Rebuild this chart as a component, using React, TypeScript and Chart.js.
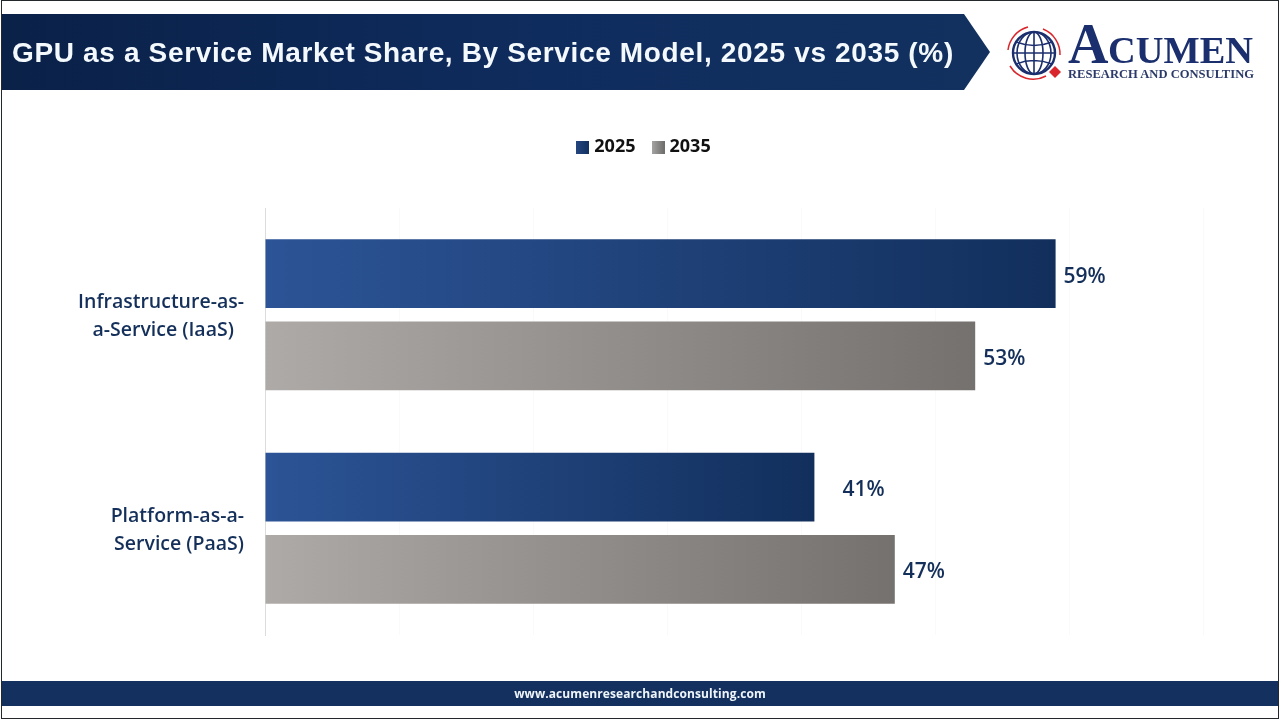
import React, { useEffect, useRef } from "react";
import { Chart, registerables } from "chart.js";

Chart.register(...registerables);

const TITLE = "GPU as a Service Market Share, By Service Model, 2025 vs 2035 (%)";
const FOOTER = "www.acumenresearchandconsulting.com";
const categories = [
  ["Infrastructure-as-", "a-Service (IaaS)  "],
  ["Platform-as-a-", "Service (PaaS)"],
];
const seriesNames = ["2025", "2035"];
const values2025 = [59, 41];
const values2035 = [53, 47];
const axisMax = 70;
const axisStep = 10;

const LABEL_FONT = '"Open Sans", "Noto Sans", sans-serif';

function barGradient(from: string, to: string) {
  return (ctx: any) => {
    const chart = ctx.chart;
    const scale = chart.scales?.x;
    if (!scale || ctx.parsed === undefined || ctx.raw === undefined) return to;
    const x0 = scale.getPixelForValue(0);
    const x1 = scale.getPixelForValue(ctx.raw);
    if (!isFinite(x0) || !isFinite(x1) || x0 === x1) return to;
    const g = chart.ctx.createLinearGradient(x0, 0, x1, 0);
    g.addColorStop(0, from);
    g.addColorStop(1, to);
    return g;
  };
}

function swatch(from: string, to: string) {
  const c = document.createElement("canvas");
  c.width = 13;
  c.height = 13;
  const x = c.getContext("2d")!;
  const g = x.createLinearGradient(0, 0, 13, 0);
  g.addColorStop(0, from);
  g.addColorStop(1, to);
  x.fillStyle = g;
  x.fillRect(0, 0, 13, 13);
  return c;
}

const valueLabels = {
  id: "valueLabels",
  afterDatasetsDraw(chart: any) {
    const { ctx } = chart;
    ctx.save();
    ctx.font = `600 21px ${LABEL_FONT}`;
    ctx.fillStyle = "#14305a";
    ctx.textAlign = "left";
    ctx.textBaseline = "middle";
    chart.data.datasets.forEach((ds: any, i: number) => {
      chart.getDatasetMeta(i).data.forEach((bar: any, j: number) => {
        // the 41% label stands further from its bar in the reference
        const gap = ds.data[j] === 41 ? 28 : 8;
        ctx.fillText(`${ds.data[j]}%`, bar.x + gap, bar.y + 3);
      });
    });
    ctx.restore();
  },
};

// The legend keeps a wide band below it and sits right of the chart's centre.
const legendPlacement = {
  id: "legendPlacement",
  beforeInit(chart: any) {
    const fit = chart.legend.fit;
    chart.legend.fit = function () {
      fit.call(this);
      this.height += 42;
    };
  },
  afterLayout(chart: any) {
    chart.legend.left += 44;
    chart.legend.right += 44;
  },
};

function Logo() {
  const navy = "#1b2f6e";
  const red = "#d8262c";
  const serif = '"Liberation Serif", serif';
  return (
    <svg
      width={260}
      height={90}
      viewBox="0 0 260 90"
      style={{ position: "absolute", left: 1000, top: 0 }}
    >
      <g fill="none" stroke={navy} strokeWidth={1.6}>
        <circle cx={34} cy={53} r={21} strokeWidth={2.4} />
        <ellipse cx={34} cy={53} rx={9} ry={21} />
        <ellipse cx={34} cy={53} rx={17} ry={21} />
        <path d="M34 32V74M13 53H55M16 42Q34 49 52 42M16 64Q34 57 52 64" />
      </g>
      <g fill="none" stroke={red} strokeWidth={1.5}>
        <path d="M8 50A27 27 0 0 1 28 27" />
        <path d="M43 29A27 27 0 0 1 60 55" />
        <path d="M46 76A27 27 0 0 1 10 66" />
      </g>
      <path d="M49 72l6-6 6 6-6 6z" fill={red} />
      <text x={68} y={63} fill={navy} fontFamily={serif} fontWeight={700} fontSize={56}>
        A
      </text>
      <text
        x={108}
        y={63}
        fill={navy}
        fontFamily={serif}
        fontWeight={700}
        fontSize={38}
        textLength={145}
        lengthAdjust="spacingAndGlyphs"
      >
        CUMEN
      </text>
      <text
        x={68}
        y={78}
        fill="#2b3a68"
        fontFamily={serif}
        fontWeight={700}
        fontSize={11.5}
        textLength={186}
        lengthAdjust="spacingAndGlyphs"
      >
        RESEARCH AND CONSULTING
      </text>
    </svg>
  );
}

export default function App() {
  const ref = useRef<HTMLCanvasElement>(null);

  useEffect(() => {
    const chart = new Chart(ref.current!, {
      type: "bar",
      data: {
        labels: categories,
        datasets: [
          {
            label: seriesNames[0],
            data: values2025,
            backgroundColor: barGradient("#2c5496", "#122f5c"),
            pointStyle: swatch("#25457f", "#12305f"),
          },
          {
            label: seriesNames[1],
            data: values2035,
            backgroundColor: barGradient("#aeaaa7", "#75716e"),
            pointStyle: swatch("#a8a6a4", "#6f6d6b"),
          },
        ] as any,
      },
      plugins: [valueLabels, legendPlacement],
      options: {
        indexAxis: "y",
        animation: false,
        responsive: false,
        devicePixelRatio: 1,
        categoryPercentage: 0.77,
        barPercentage: 0.835,
        layout: { padding: { left: 0, right: 77, top: 118, bottom: 85 } },
        plugins: {
          tooltip: { enabled: false },
          title: { display: false },
          legend: {
            position: "top",
            align: "center",
            labels: {
              usePointStyle: true,
              boxWidth: 5,
              boxHeight: 13,
              padding: 20,
              color: "#111111",
              font: { family: LABEL_FONT, size: 18, weight: "700" },
            },
          },
        },
        scales: {
          x: {
            min: 0,
            max: axisMax,
            ticks: { display: false, stepSize: axisStep },
            grid: { color: "#fafafa", drawTicks: false },
            border: { display: false },
          },
          y: {
            position: "left",
            ticks: {
              color: "#14305a",
              padding: 21,
              labelOffset: 2,
              font: { family: LABEL_FONT, size: 19.5, weight: "600", lineHeight: 1.43 },
            },
            grid: { display: false, drawTicks: false },
            border: { display: true, color: "#dcdcdc", width: 1 },
            afterFit: (s: any) => {
              s.width = 265;
            },
          },
        },
      } as any,
    });
    return () => chart.destroy();
  }, []);

  return (
    <div
      style={{
        position: "absolute",
        left: 0,
        top: 0,
        width: 1280,
        height: 720,
        overflow: "hidden",
        background: "#ffffff",
      }}
    >
      <canvas
        ref={ref}
        width={1280}
        height={720}
        style={{ position: "absolute", left: 0, top: 0, width: 1280, height: 720 }}
      />
      <svg
        width={1280}
        height={720}
        style={{ position: "absolute", left: 0, top: 0, pointerEvents: "none" }}
      >
        <defs>
          <linearGradient id="hdr" x1="0" x2="1" y1="0" y2="0">
            <stop offset="0" stopColor="#0a2148" />
            <stop offset="0.55" stopColor="#0f2c5e" />
            <stop offset="1" stopColor="#12315f" />
          </linearGradient>
        </defs>
        <rect x={1.5} y={0.5} width={1277} height={718} fill="none" stroke="#23282c" strokeWidth={1} />
        <polygon points="2,14 964,14 990,52 964,90 2,90" fill="url(#hdr)" />
        <rect x={2} y={681} width={1276} height={25} fill="#14305f" />
      </svg>
      <div
        style={{
          position: "absolute",
          left: 12,
          top: 14,
          height: 76,
          lineHeight: "78px",
          color: "#f4f9fd",
          fontFamily: '"Liberation Sans", Arial, sans-serif',
          fontWeight: 700,
          fontSize: 28,
          letterSpacing: 0.65,
          whiteSpace: "nowrap",
        }}
      >
        {TITLE}
      </div>
      <Logo />
      <div
        style={{
          position: "absolute",
          left: 0,
          width: 1280,
          top: 681,
          height: 25,
          lineHeight: "25px",
          textAlign: "center",
          color: "#eef5fb",
          fontFamily: LABEL_FONT,
          fontWeight: 700,
          fontSize: 12,
          letterSpacing: 0.08,
        }}
      >
        {FOOTER}
      </div>
    </div>
  );
}
